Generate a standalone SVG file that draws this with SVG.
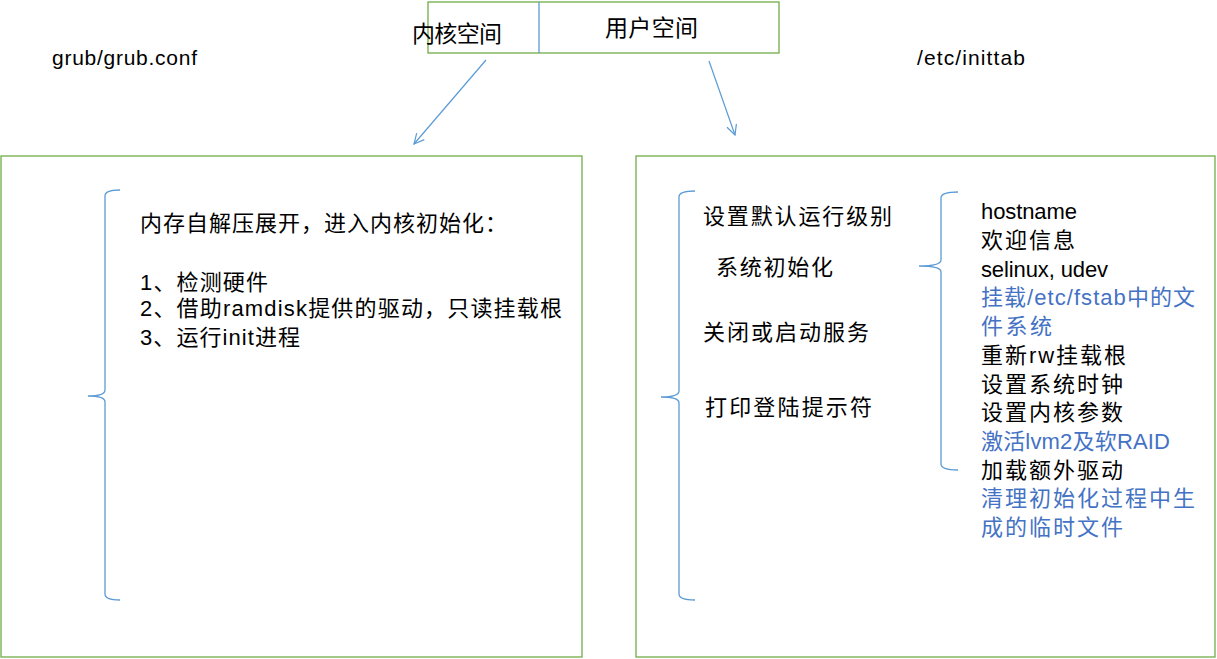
<svg xmlns="http://www.w3.org/2000/svg" width="1217" height="659" viewBox="0 0 1217 659">
<style>
text{font-family:"Liberation Sans","Noto Sans CJK SC",sans-serif;fill:#000;}
.t{font-size:22px;}
.b{fill:#4472C4;}
.box{fill:none;stroke:#70AD47;stroke-width:1.3;}
.br{fill:none;stroke:#5B9BD5;stroke-width:1.3;}
.ar{fill:none;stroke:#5B9BD5;stroke-width:1.2;}
</style>
<defs>
<marker id="ah" viewBox="0 0 12 12" refX="11" refY="6" markerWidth="12" markerHeight="12" markerUnits="userSpaceOnUse" orient="auto">
<path d="M1,1 L11,6 L1,11" fill="none" stroke="#5B9BD5" stroke-width="1.2"/>
</marker>
</defs>
<rect width="1217" height="659" fill="#fff"/>
<g id="top-box">
<rect class="box" x="428" y="2" width="351" height="51"/>
<line x1="539" y1="2" x2="539" y2="53" stroke="#5B9BD5" stroke-width="1.3"/>
<text x="412" y="42" font-size="23" textLength="90">内核空间</text>
<text x="605" y="36" font-size="23" textLength="93">用户空间</text>
</g>
<g id="labels">
<text x="52" y="65" font-size="21" textLength="145">grub/grub.conf</text>
<text x="917" y="65" font-size="21" textLength="108">/etc/inittab</text>
</g>
<g id="connectors">
<line class="ar" x1="486" y1="60" x2="414" y2="144" marker-end="url(#ah)"/>
<line class="ar" x1="709" y1="61" x2="735" y2="135" marker-end="url(#ah)"/>
</g>
<g id="kernel-box">
<rect class="box" x="1" y="156" width="581" height="501"/>
<path class="br" d="M120,190 Q105,190 105,196 L105,390 Q105,396 88,396 Q105,396 105,402 L105,594 Q105,600 120,600"/>
<text class="t" x="140" y="231" textLength="367">内存自解压展开，进入内核初始化：</text>
<text class="t" x="140" y="290" textLength="128">1、检测硬件</text>
<text class="t" x="140" y="316" textLength="422">2、借助ramdisk提供的驱动，只读挂载根</text>
<text class="t" x="140" y="345" textLength="160">3、运行init进程</text>
</g>
<g id="user-box">
<rect class="box" x="636" y="156" width="579" height="501"/>
<path class="br" d="M695,191 Q679,191 679,197 L679,391 Q679,397 661,397 Q679,397 679,403 L679,594 Q679,600 695,600"/>
<text class="t" x="703" y="224" textLength="189">设置默认运行级别</text>
<text class="t" x="716" y="275" textLength="117">系统初始化</text>
<text class="t" x="703" y="340" textLength="166">关闭或启动服务</text>
<text class="t" x="705" y="415" textLength="167">打印登陆提示符</text>
</g>
<g id="sysinit-detail">
<path class="br" d="M958,192 Q941,192 941,198 L941,260 Q941,266 919,266 Q941,266 941,272 L941,464 Q941,470 958,470"/>
<text class="t" x="981" y="219" textLength="96">hostname</text>
<text class="t" x="981" y="248" textLength="94">欢迎信息</text>
<text class="t" x="981" y="277" textLength="127">selinux, udev</text>
<text class="t b" x="981" y="305" textLength="214">挂载/etc/fstab中的文</text>
<text class="t b" x="981" y="334" textLength="71">件系统</text>
<text class="t" x="981" y="363" textLength="145">重新rw挂载根</text>
<text class="t" x="981" y="392" textLength="142">设置系统时钟</text>
<text class="t" x="981" y="420" textLength="142">设置内核参数</text>
<text class="t b" x="981" y="449" textLength="189">激活lvm2及软RAID</text>
<text class="t" x="981" y="478" textLength="142">加载额外驱动</text>
<text class="t b" x="981" y="506" textLength="214">清理初始化过程中生</text>
<text class="t b" x="981" y="535" textLength="142">成的临时文件</text>
</g>
</svg>
